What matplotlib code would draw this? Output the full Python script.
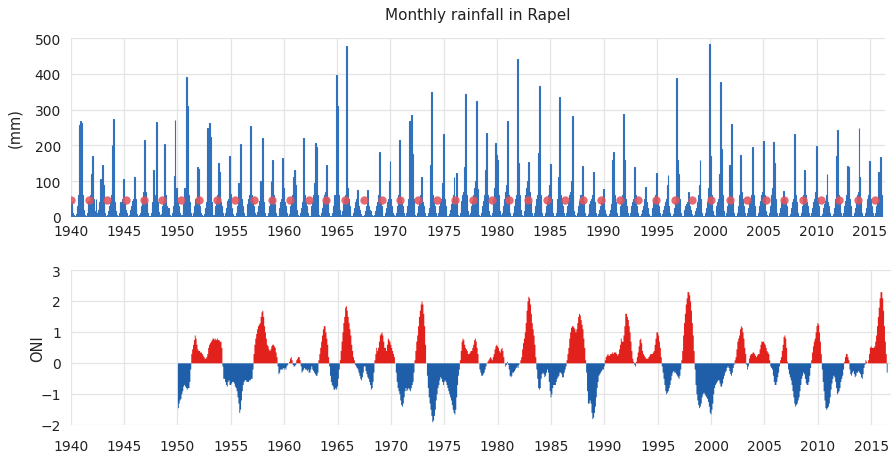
import numpy as np
import matplotlib
matplotlib.use("Agg")
import matplotlib.pyplot as plt

plt.rcParams['font.family'] = ['DejaVu Sans']

# ---------------- data ----------------
rain_start_year = 1940
# monthly rainfall (mm), one row of 12 months per year (1940 .. 2016)
rain_rows = [
    [40, 30, 10, 5, 0, 2, 8, 30, 60, 258, 100, 268],     # 1940
    [262, 60, 20, 5, 0, 3, 10, 25, 45, 30, 60, 120],     # 1941
    [170, 50, 15, 5, 50, 2, 10, 20, 40, 105, 70, 145],   # 1942
    [90, 40, 10, 3, 0, 5, 15, 30, 45, 60, 200, 80],      # 1943
    [275, 40, 15, 5, 0, 2, 10, 35, 40, 30, 50, 105],     # 1944
    [40, 20, 10, 0, 0, 3, 5, 20, 30, 45, 50, 112],       # 1945
    [50, 30, 8, 2, 0, 5, 10, 30, 50, 70, 60, 215],       # 1946
    [70, 40, 10, 3, 0, 2, 10, 25, 40, 130, 50, 60],      # 1947
    [265, 40, 12, 5, 0, 2, 8, 30, 45, 205, 60, 30],      # 1948
    [25, 20, 25, 5, 0, 3, 10, 30, 115, 270, 50, 80],     # 1949
    [40, 30, 10, 5, 0, 5, 15, 35, 80, 60, 392, 310],     # 1950
    [60, 40, 10, 3, 0, 2, 10, 30, 50, 45, 140, 135],     # 1951
    [45, 30, 10, 5, 0, 3, 8, 25, 40, 50, 250, 180],      # 1952
    [262, 222, 40, 5, 0, 5, 10, 30, 45, 60, 150, 125],   # 1953
    [40, 30, 10, 3, 0, 2, 10, 25, 45, 50, 170, 65],      # 1954
    [40, 25, 8, 3, 0, 3, 10, 30, 95, 50, 40, 205],       # 1955
    [50, 30, 10, 3, 0, 2, 10, 35, 50, 60, 255, 60],      # 1956
    [45, 30, 10, 5, 0, 5, 12, 30, 45, 100, 60, 220],     # 1957
    [50, 40, 10, 3, 0, 2, 10, 30, 50, 100, 60, 160],     # 1958
    [60, 35, 10, 3, 0, 2, 10, 25, 40, 50, 165, 80],      # 1959
    [40, 30, 10, 5, 0, 2, 8, 30, 40, 60, 110, 132],      # 1960
    [130, 90, 20, 5, 0, 3, 10, 25, 40, 50, 220, 60],     # 1961
    [40, 30, 10, 3, 0, 2, 8, 30, 45, 60, 95, 206],       # 1962
    [195, 60, 15, 5, 0, 3, 10, 25, 40, 60, 70, 95],      # 1963
    [145, 50, 10, 3, 0, 2, 10, 30, 40, 60, 50, 397],     # 1964
    [311, 60, 20, 5, 0, 5, 15, 35, 50, 60, 478, 80],     # 1965
    [50, 30, 10, 3, 0, 2, 10, 25, 40, 50, 75, 40],       # 1966
    [30, 20, 8, 2, 0, 2, 5, 15, 25, 30, 75, 30],         # 1967
    [20, 15, 5, 2, 0, 2, 5, 15, 30, 40, 60, 180],        # 1968
    [40, 30, 10, 3, 0, 2, 10, 25, 40, 50, 100, 157],     # 1969
    [50, 30, 10, 5, 0, 3, 10, 30, 45, 60, 215, 50],      # 1970
    [40, 30, 10, 3, 0, 2, 10, 30, 50, 269, 150, 286],    # 1971
    [175, 50, 10, 5, 0, 3, 10, 30, 45, 60, 112, 50],     # 1972
    [40, 30, 10, 3, 0, 2, 10, 25, 40, 145, 350, 60],     # 1973
    [40, 30, 10, 3, 0, 2, 10, 30, 40, 50, 95, 232],      # 1974
    [50, 30, 10, 3, 0, 2, 8, 20, 35, 45, 60, 110],       # 1975
    [50, 40, 122, 5, 0, 3, 10, 30, 45, 60, 70, 140],     # 1976
    [344, 60, 15, 5, 0, 2, 10, 30, 45, 60, 80, 100],     # 1977
    [325, 50, 78, 5, 0, 2, 10, 30, 45, 60, 50, 130],     # 1978
    [234, 60, 15, 5, 0, 3, 10, 35, 50, 80, 207, 173],    # 1979
    [160, 60, 15, 5, 0, 2, 10, 30, 50, 70, 90, 267],     # 1980
    [60, 40, 10, 3, 0, 2, 10, 30, 50, 60, 80, 442],      # 1981
    [150, 60, 20, 5, 0, 3, 15, 40, 60, 80, 100, 152],    # 1982
    [70, 40, 10, 3, 0, 2, 10, 30, 50, 60, 178, 365],     # 1983
    [60, 40, 10, 3, 0, 2, 10, 30, 45, 60, 70, 90],       # 1984
    [148, 50, 10, 3, 0, 2, 10, 30, 50, 110, 336, 60],    # 1985
    [50, 30, 10, 3, 0, 2, 10, 30, 45, 60, 70, 100],      # 1986
    [281, 60, 15, 5, 0, 3, 10, 30, 45, 60, 50, 60],      # 1987
    [141, 40, 10, 3, 0, 2, 8, 20, 35, 45, 50, 60],       # 1988
    [126, 40, 10, 3, 0, 2, 8, 20, 30, 40, 50, 78],       # 1989
    [30, 20, 8, 2, 0, 2, 8, 20, 35, 50, 160, 180],       # 1990
    [60, 40, 10, 3, 0, 2, 10, 30, 45, 60, 287, 160],     # 1991
    [50, 30, 10, 3, 0, 2, 10, 30, 40, 50, 138, 60],      # 1992
    [40, 30, 10, 3, 0, 2, 8, 20, 30, 40, 50, 82],        # 1993
    [40, 25, 8, 3, 0, 2, 8, 25, 40, 50, 60, 122],        # 1994
    [40, 30, 10, 3, 0, 2, 8, 20, 30, 40, 50, 90],        # 1995
    [118, 30, 10, 3, 0, 2, 8, 25, 40, 50, 388, 160],     # 1996
    [120, 50, 10, 3, 0, 2, 8, 20, 30, 35, 40, 70],       # 1997
    [30, 20, 8, 2, 0, 2, 5, 15, 25, 40, 60, 90],         # 1998
    [159, 50, 10, 3, 0, 2, 10, 25, 40, 50, 80, 484],     # 1999
    [170, 60, 15, 5, 0, 3, 10, 30, 40, 50, 120, 378],    # 2000
    [190, 60, 15, 5, 0, 2, 10, 30, 50, 145, 140, 260],   # 2001
    [80, 40, 10, 3, 0, 2, 10, 30, 45, 60, 173, 70],      # 2002
    [50, 30, 10, 3, 0, 2, 10, 25, 40, 50, 60, 194],      # 2003
    [60, 30, 10, 3, 0, 2, 10, 30, 45, 60, 70, 210],      # 2004
    [213, 60, 15, 5, 0, 3, 10, 30, 50, 60, 80, 210],     # 2005
    [150, 50, 10, 3, 0, 2, 10, 25, 40, 50, 73, 50],      # 2006
    [40, 30, 10, 3, 0, 2, 8, 25, 40, 50, 232, 160],      # 2007
    [60, 40, 10, 3, 0, 2, 10, 30, 45, 60, 132, 60],      # 2008
    [40, 30, 10, 3, 0, 2, 10, 25, 40, 50, 70, 199],      # 2009
    [50, 30, 10, 3, 0, 2, 8, 25, 35, 45, 60, 121],       # 2010
    [40, 30, 10, 3, 0, 2, 8, 25, 40, 50, 170, 243],      # 2011
    [60, 40, 10, 3, 0, 2, 10, 30, 45, 60, 143, 140],     # 2012
    [50, 30, 10, 3, 0, 2, 10, 25, 40, 60, 70, 250],      # 2013
    [110, 40, 10, 3, 0, 2, 10, 25, 40, 50, 60, 157],     # 2014
    [50, 30, 10, 3, 0, 2, 10, 30, 40, 124, 60, 166],     # 2015
    [60],                                                # 2016
]
rain_mean = 47          # long-term mean monthly rainfall (mm), red dots
mean_marker_step = 20.6 # months between mean markers

oni_start_year = 1950
# Oceanic Nino Index, 12 running seasons per year (1950 .. 2016)
oni_rows = [
    [-1.45, -1.3, -1.2, -1.15, -1.0, -0.9, -0.75, -0.7, -0.75, -0.8, -0.85, -0.8],   # 1950
    [-0.8, -0.6, -0.2, 0.3, 0.45, 0.6, 0.75, 0.9, 0.8, 0.6, 0.45, 0.4],              # 1951
    [0.4, 0.35, 0.35, 0.3, 0.25, 0.2, 0.15, 0.15, 0.2, 0.3, 0.5, 0.6],               # 1952
    [0.65, 0.7, 0.75, 0.8, 0.8, 0.75, 0.8, 0.75, 0.8, 0.75, 0.75, 0.7],              # 1953
    [0.7, 0.5, -0.1, -0.5, -0.5, -0.6, -0.7, -0.75, -0.6, -0.55, -0.7, -0.7],        # 1954
    [-0.65, -0.6, -0.6, -0.65, -0.75, -0.8, -0.9, -1.1, -1.3, -1.6, -1.5, -1.2],     # 1955
    [-0.9, -0.7, -0.6, -0.55, -0.55, -0.6, -0.6, -0.6, -0.55, -0.55, -0.5, -0.5],    # 1956
    [-0.2, 0.3, 0.6, 0.8, 0.95, 1.1, 1.2, 1.25, 1.3, 1.5, 1.65, 1.7],                # 1957
    [1.5, 1.2, 1.0, 0.8, 0.6, 0.55, 0.45, 0.4, 0.45, 0.55, 0.6, 0.6],                # 1958
    [0.55, 0.5, 0.35, 0.2, -0.1, -0.35, -0.3, -0.2, -0.2, -0.2, -0.15, -0.2],        # 1959
    [-0.15, -0.2, -0.1, -0.05, 0.0, 0.05, 0.15, 0.2, 0.1, -0.05, -0.1, -0.1],        # 1960
    [-0.05, 0.1, 0.15, 0.2, 0.2, 0.1, -0.1, -0.3, -0.25, -0.2, -0.15, -0.2],         # 1961
    [-0.2, -0.25, -0.2, -0.3, -0.3, -0.2, -0.1, -0.2, -0.25, -0.3, -0.35, -0.4],     # 1962
    [-0.4, -0.3, 0.1, 0.3, 0.5, 0.7, 0.9, 1.1, 1.2, 1.2, 1.0, 0.8],                  # 1963
    [0.6, 0.2, -0.1, -0.4, -0.6, -0.7, -0.75, -0.85, -0.85, -0.8, -0.85, -0.75],     # 1964
    [-0.5, -0.2, 0.1, 0.4, 0.7, 1.0, 1.3, 1.5, 1.8, 1.85, 1.7, 1.5],                 # 1965
    [1.3, 1.1, 0.9, 0.6, 0.4, 0.2, 0.1, -0.05, -0.1, -0.15, -0.2, -0.3],             # 1966
    [-0.4, -0.5, -0.55, -0.45, -0.3, -0.1, -0.1, -0.25, -0.35, -0.45, -0.5, -0.6],   # 1967
    [-0.7, -0.85, -0.8, -0.6, -0.3, 0.1, 0.3, 0.5, 0.4, 0.5, 0.7, 0.9],              # 1968
    [0.95, 1.0, 0.9, 0.7, 0.5, 0.5, 0.4, 0.6, 0.8, 0.75, 0.7, 0.6],                  # 1969
    [0.5, 0.4, 0.3, 0.2, 0.0, -0.3, -0.6, -0.8, -0.9, -1.0, -1.2, -1.35],            # 1970
    [-1.4, -1.3, -1.1, -0.9, -0.8, -0.9, -0.85, -0.8, -0.85, -0.9, -0.8, -0.7],      # 1971
    [-0.6, -0.3, 0.1, 0.4, 0.7, 0.9, 1.2, 1.5, 1.7, 1.9, 2.0, 1.9],                  # 1972
    [1.6, 1.2, 0.6, 0.0, -0.4, -0.8, -1.1, -1.3, -1.5, -1.7, -1.9, -1.85],           # 1973
    [-1.7, -1.5, -1.2, -1.0, -0.8, -0.7, -0.55, -0.45, -0.5, -0.6, -0.7, -0.6],      # 1974
    [-0.55, -0.6, -0.7, -0.8, -0.9, -1.0, -1.1, -1.2, -1.35, -1.5, -1.6, -1.65],     # 1975
    [-1.5, -1.1, -0.7, -0.4, -0.2, 0.1, 0.4, 0.7, 0.8, 0.75, 0.6, 0.5],              # 1976
    [0.45, 0.4, 0.3, 0.3, 0.35, 0.4, 0.4, 0.5, 0.6, 0.75, 0.8, 0.7],                 # 1977
    [0.5, 0.3, 0.0, -0.2, -0.3, -0.4, -0.4, -0.35, -0.3, -0.2, -0.1, 0.0],           # 1978
    [0.05, 0.1, 0.15, 0.2, 0.15, 0.1, 0.2, 0.3, 0.45, 0.55, 0.6, 0.55],              # 1979
    [0.5, 0.4, 0.35, 0.45, 0.5, 0.4, 0.2, 0.0, -0.1, -0.05, 0.05, -0.05],            # 1980
    [-0.2, -0.4, -0.45, -0.4, -0.3, -0.3, -0.25, -0.2, -0.15, -0.1, -0.15, -0.05],   # 1981
    [0.0, 0.1, 0.2, 0.45, 0.65, 0.8, 1.0, 1.3, 1.7, 2.0, 2.15, 2.1],                 # 1982
    [1.9, 1.6, 1.3, 1.1, 0.9, 0.6, 0.2, -0.2, -0.5, -0.8, -0.85, -0.8],              # 1983
    [-0.5, -0.35, -0.3, -0.35, -0.45, -0.4, -0.3, -0.2, -0.3, -0.6, -0.9, -1.1],     # 1984
    [-1.0, -0.8, -0.7, -0.7, -0.7, -0.6, -0.5, -0.45, -0.4, -0.3, -0.3, -0.35],      # 1985
    [-0.45, -0.45, -0.3, -0.2, -0.1, 0.1, 0.3, 0.5, 0.8, 1.0, 1.15, 1.2],            # 1986
    [1.2, 1.15, 1.1, 1.0, 1.1, 1.3, 1.5, 1.6, 1.55, 1.4, 1.25, 1.1],                 # 1987
    [0.8, 0.5, 0.1, -0.3, -0.9, -1.3, -1.3, -1.2, -1.3, -1.6, -1.8, -1.75],          # 1988
    [-1.6, -1.4, -1.1, -0.8, -0.6, -0.4, -0.35, -0.3, -0.25, -0.2, -0.2, -0.1],      # 1989
    [0.1, 0.2, 0.25, 0.3, 0.25, 0.25, 0.3, 0.3, 0.35, 0.3, 0.35, 0.35],              # 1990
    [0.35, 0.3, 0.25, 0.3, 0.45, 0.6, 0.8, 0.7, 0.7, 0.9, 1.2, 1.6],                 # 1991
    [1.6, 1.5, 1.4, 1.2, 1.0, 0.7, 0.4, 0.15, 0.05, -0.05, -0.1, 0.05],              # 1992
    [0.2, 0.35, 0.55, 0.75, 0.8, 0.65, 0.4, 0.3, 0.25, 0.2, 0.15, 0.15],             # 1993
    [0.15, 0.2, 0.25, 0.3, 0.3, 0.3, 0.35, 0.4, 0.6, 0.8, 1.0, 1.0],                 # 1994
    [0.9, 0.7, 0.5, 0.2, -0.1, -0.3, -0.5, -0.7, -0.9, -1.0, -0.95, -0.9],           # 1995
    [-0.8, -0.7, -0.55, -0.4, -0.3, -0.25, -0.3, -0.3, -0.35, -0.4, -0.45, -0.5],    # 1996
    [-0.4, -0.2, 0.1, 0.4, 0.9, 1.3, 1.6, 1.9, 2.1, 2.3, 2.3, 2.2],                  # 1997
    [2.0, 1.7, 1.3, 0.9, 0.4, -0.2, -0.7, -1.0, -1.2, -1.35, -1.45, -1.4],           # 1998
    [-1.3, -1.1, -1.0, -0.95, -1.0, -1.05, -1.1, -1.15, -1.25, -1.4, -1.6, -1.65],   # 1999
    [-1.5, -1.3, -1.0, -0.8, -0.7, -0.65, -0.6, -0.55, -0.55, -0.65, -0.75, -0.75],  # 2000
    [-0.65, -0.5, -0.4, -0.3, -0.25, -0.15, -0.1, -0.15, -0.25, -0.35, -0.4, -0.3],  # 2001
    [-0.15, -0.05, 0.1, 0.2, 0.45, 0.7, 0.8, 0.9, 1.1, 1.2, 1.15, 1.0],              # 2002
    [0.8, 0.5, 0.3, -0.05, -0.2, -0.1, 0.15, 0.25, 0.3, 0.3, 0.35, 0.35],            # 2003
    [0.3, 0.25, 0.2, 0.25, 0.3, 0.3, 0.45, 0.6, 0.7, 0.7, 0.7, 0.65],                # 2004
    [0.6, 0.5, 0.4, 0.35, 0.3, 0.1, -0.1, -0.15, -0.2, -0.4, -0.6, -0.7],            # 2005
    [-0.7, -0.6, -0.45, -0.3, -0.1, 0.1, 0.2, 0.4, 0.6, 0.85, 0.9, 0.8],             # 2006
    [0.5, 0.05, -0.2, -0.35, -0.45, -0.55, -0.7, -0.9, -1.1, -1.3, -1.4, -1.35],     # 2007
    [-1.3, -1.2, -1.1, -0.9, -0.7, -0.5, -0.4, -0.3, -0.35, -0.5, -0.65, -0.7],      # 2008
    [-0.7, -0.6, -0.4, -0.15, 0.1, 0.35, 0.55, 0.7, 0.8, 1.0, 1.2, 1.3],             # 2009
    [1.25, 1.0, 0.7, 0.3, -0.2, -0.6, -0.9, -1.2, -1.45, -1.5, -1.45, -1.4],         # 2010
    [-1.3, -1.1, -0.85, -0.65, -0.5, -0.4, -0.45, -0.6, -0.8, -1.0, -0.95, -0.9],    # 2011
    [-0.8, -0.6, -0.5, -0.4, -0.2, 0.05, 0.2, 0.3, 0.3, 0.2, 0.1, -0.2],             # 2012
    [-0.35, -0.4, -0.3, -0.25, -0.35, -0.45, -0.4, -0.3, -0.3, -0.25, -0.3, -0.35],  # 2013
    [-0.45, -0.5, -0.35, -0.15, -0.05, 0.1, 0.05, 0.0, 0.1, 0.3, 0.5, 0.55],         # 2014
    [0.5, 0.5, 0.5, 0.55, 0.7, 0.9, 1.2, 1.5, 1.8, 2.1, 2.3, 2.3],                   # 2015
    [2.1, 1.7, 1.2, 0.7, 0.3, -0.3],                                                 # 2016
]

title = "Monthly rainfall in Rapel"
year_ticks = list(range(1940, 2016, 5))
rain_ticks = [0, 100, 200, 300, 400, 500]
oni_ticks = [-2, -1, 0, 1, 2, 3]

# ---------------- derived series ----------------
rain = np.array([v for row in rain_rows for v in row], dtype=float)
t_rain = rain_start_year + np.arange(len(rain)) / 12.0
oni = np.array([v for row in oni_rows for v in row], dtype=float)
t_oni = oni_start_year + np.arange(len(oni)) / 12.0

# ---------------- style ----------------
TXT = '#222222'
GRID = '#e4e4e4'
BLUE_RAIN = '#3271bb'
RED_DOT = '#e2545c'
RED = '#e2211c'
BLUE = '#1f5ea9'
FS = 10

fig = plt.figure(figsize=(8.96, 4.56), dpi=100)
ax1 = fig.add_axes([0.0789, 0.5226, 0.9088, 0.3912])
ax2 = fig.add_axes([0.0789, 0.0664, 0.9155, 0.3393])

for ax in (ax1, ax2):
    for s in ax.spines.values():
        s.set_visible(False)
    ax.grid(True, color=GRID, linewidth=0.9)
    ax.set_axisbelow(True)
    ax.set_xticks(year_ticks)
    ax.tick_params(length=0, colors=TXT, labelsize=FS)

# top: monthly rainfall
ax1.bar(t_rain, rain, width=1 / 12.0, align='edge', color=BLUE_RAIN,
        linewidth=0.8, edgecolor=BLUE_RAIN)
mark_idx = np.round(np.arange(0, len(rain), mean_marker_step)).astype(int)
mark_idx = mark_idx[mark_idx < len(rain) - 5]
ax1.plot(t_rain, np.full_like(rain, rain_mean), linestyle='none', marker='o',
         markersize=6, markerfacecolor=RED_DOT, markeredgecolor='none',
         alpha=0.88, markevery=list(mark_idx))
ax1.set_xlim(1940, 2016.4)
ax1.set_ylim(0, 500)
ax1.set_yticks(rain_ticks)
ax1.tick_params(axis='x', pad=5)
ax1.tick_params(axis='y', pad=7)
ax1.set_title(title, fontsize=FS + 1, color=TXT, pad=14)
ax1.set_ylabel('(mm)', fontsize=FS + 0.5, color=TXT)
ax1.yaxis.set_label_coords(-0.06, 0.5)

# bottom: ONI as monthly steps, red above zero, blue below
t_edges = np.append(t_oni, t_oni[-1] + 1 / 12.0)
pos = np.where(oni > 0, oni, 0)
neg = np.where(oni < 0, oni, 0)
ax2.fill_between(t_edges, 0, np.append(pos, pos[-1]), step='post',
                 color=RED, linewidth=0)
ax2.fill_between(t_edges, 0, np.append(neg, neg[-1]), step='post',
                 color=BLUE, linewidth=0)
ax2.set_xlim(1940, 2016.86)
ax2.set_ylim(-2, 3)
ax2.set_yticks(oni_ticks)
ax2.tick_params(axis='x', pad=10)
ax2.tick_params(axis='y', pad=7)
ax2.set_ylabel('ONI', fontsize=FS + 0.5, color=TXT)
ax2.yaxis.set_label_coords(-0.031, 0.5)

fig.savefig('out.png', dpi=100)
